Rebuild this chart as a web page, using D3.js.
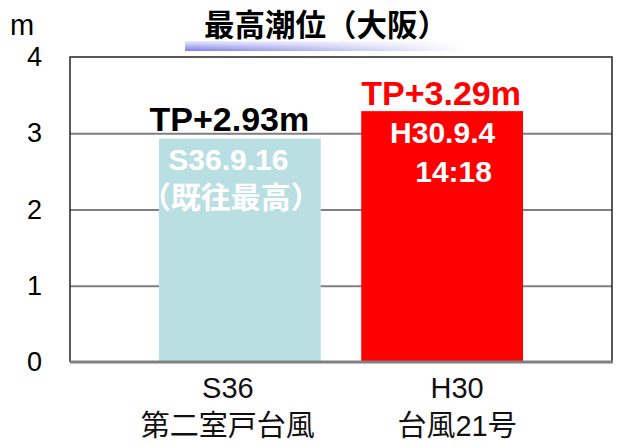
<!DOCTYPE html>
<html>
<head>
<meta charset="utf-8">
<script src="https://cdn.jsdelivr.net/npm/d3@7"></script>
<style>
  html, body { margin: 0; padding: 0; background: #fff; }
  svg { display: block; }
  text { font-family: "Liberation Sans", Arial, "Noto Sans CJK JP", sans-serif; }
</style>
</head>
<body>
<div id="chart"></div>
<script>
// data
var categories = ["S36", "H30"];
var categoryNames = ["第二室戸台風", "台風21号"];
var levels = [2.93, 3.29];
var valueLabels = ["TP+2.93m", "TP+3.29m"];
var dateLabels = [["S36.9.16", "（既往最高）"], ["H30.9.4", "14:18"]];
var yTicks = [0, 1, 2, 3, 4];
var title = "最高潮位（大阪）";
var unit = "m";

var W = 618, H = 446;
var plot = {left: 70, right: 612, top: 57, bottom: 362};
var barColors = ["#b9dfe3", "#ff0000"];
var valueColors = ["#000000", "#ff0000"];

var svg = d3.select("#chart").append("svg").attr("width", W).attr("height", H);

var x = d3.scaleBand().domain(categories).range([plot.left, plot.right])
    .paddingInner(0.2).paddingOuter(0.44);
var y = d3.scaleLinear().domain([0, 4]).range([plot.bottom, plot.top]);

// title with gradient underline
var defs = svg.append("defs");
var g1 = defs.append("linearGradient").attr("id", "ul").attr("x1", 0).attr("x2", 1).attr("y1", 0).attr("y2", 0);
g1.append("stop").attr("offset", "0%").attr("stop-color", "#7c7ce8");
g1.append("stop").attr("offset", "45%").attr("stop-color", "#b4b4f2");
g1.append("stop").attr("offset", "100%").attr("stop-color", "#ffffff");
var g2 = defs.append("linearGradient").attr("id", "ulv").attr("x1", 0).attr("x2", 0).attr("y1", 0).attr("y2", 1);
g2.append("stop").attr("offset", "0%").attr("stop-color", "#ffffff").attr("stop-opacity", 0.85);
g2.append("stop").attr("offset", "100%").attr("stop-color", "#ffffff").attr("stop-opacity", 0);

svg.append("rect").attr("x", 185).attr("y", 41).attr("width", 280).attr("height", 10).attr("fill", "url(#ul)");
svg.append("rect").attr("x", 185).attr("y", 41).attr("width", 280).attr("height", 10).attr("fill", "url(#ulv)");

svg.append("text").attr("x", 326).attr("y", 36)
    .attr("text-anchor", "middle")
    .style("font-family", "'Noto Sans CJK JP', sans-serif")
    .style("font-weight", "bold").style("font-size", "30.5px")
    .text(title);

// gridlines
var grid = svg.append("g").attr("transform", "translate(" + plot.left + ",0)")
    .call(d3.axisLeft(y).tickValues(yTicks.filter(function(d){ return d > 0 && d < 4; }))
        .tickSize(-(plot.right - plot.left)).tickFormat(""));
grid.select(".domain").remove();
grid.selectAll("line").attr("stroke", "#808080").attr("stroke-width", 2);

// bars
svg.append("g").selectAll("rect").data(levels).enter().append("rect")
    .attr("x", function(d, i){ return x(categories[i]); })
    .attr("y", function(d){ return y(d); })
    .attr("width", x.bandwidth())
    .attr("height", function(d){ return y(0) - y(d); })
    .attr("fill", function(d, i){ return barColors[i]; });

// plot frame
svg.append("path")
    .attr("d", "M" + plot.left + "," + plot.bottom + "V" + plot.top + "H" + plot.right + "V" + plot.bottom)
    .attr("fill", "none").attr("stroke", "#222").attr("stroke-width", 1.5);
svg.append("line").attr("x1", plot.left).attr("x2", plot.right + 1)
    .attr("y1", plot.bottom).attr("y2", plot.bottom)
    .attr("stroke", "#808080").attr("stroke-width", 3);

// y axis labels
var yAxis = svg.append("g").attr("transform", "translate(" + plot.left + ",0)")
    .call(d3.axisLeft(y).tickValues(yTicks).tickSize(0).tickPadding(28).tickFormat(d3.format("d")));
yAxis.select(".domain").remove();
yAxis.selectAll("text").style("font-size", "27px").attr("fill", "#000")
    .style("font-family", "'Liberation Sans', Arial, sans-serif");

svg.append("text").attr("x", 10).attr("y", 35).style("font-size", "29px").text(unit);

// category labels (offsets to match the picture)
var catDx = [-12, 15];
var xAxis = svg.append("g");
categories.forEach(function(c, i){
    var cx = x(c) + x.bandwidth() / 2 + catDx[i];
    var t = xAxis.append("text").attr("x", cx).attr("text-anchor", "middle")
        .style("font-size", "29px").attr("fill", "#111");
    t.append("tspan").attr("x", cx).attr("y", 398).text(c);
    t.append("tspan").attr("x", cx).attr("y", 436).text(categoryNames[i]);
});

// value labels above bars
var valDx = [-10.5, -1];
var valDy = [-7.5, -6];
svg.append("g").selectAll("text").data(levels).enter().append("text")
    .attr("x", function(d, i){ return x(categories[i]) + x.bandwidth() / 2 + valDx[i]; })
    .attr("y", function(d, i){ return y(d) + valDy[i]; })
    .attr("text-anchor", "middle")
    .style("font-size", "34px").style("font-weight", "bold")
    .attr("fill", function(d, i){ return valueColors[i]; })
    .text(function(d, i){ return valueLabels[i]; });

// date labels inside bars
var dateDx = [[-11.5, -9], [0.5, 11.5]];
var dateDy = [[31.5, 69], [32, 71]];
dateLabels.forEach(function(lines, i){
    lines.forEach(function(s, j){
        svg.append("text")
            .attr("x", x(categories[i]) + x.bandwidth() / 2 + dateDx[i][j])
            .attr("y", y(levels[i]) + dateDy[i][j])
            .attr("text-anchor", "middle")
            .style("font-size", "30px").style("font-weight", "bold")
            .attr("fill", "#fff").text(s);
    });
});
</script>
</body>
</html>
